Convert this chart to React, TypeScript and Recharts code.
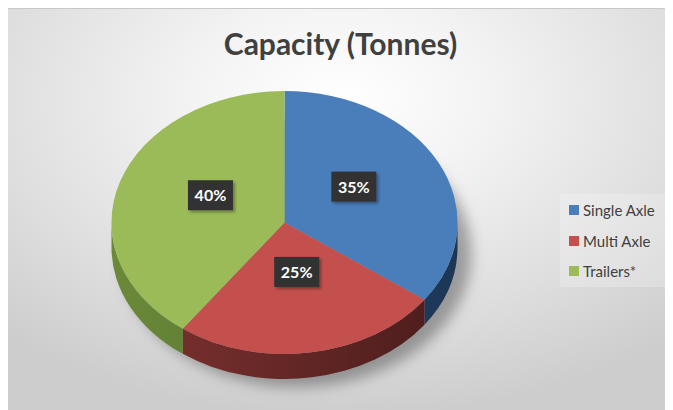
import React from 'react';
import { PieChart, Pie, Cell, Legend } from 'recharts';

const SLICES = ['Single Axle', 'Multi Axle', 'Trailers*'];
const SHARES = [35, 25, 40];
const COLORS = ['#4a7ebb', '#c4504d', '#9bbb59'];
// darker tones for the rim of each slice (left end, right end)
const RIM_LIGHT = ['#2f5384', '#7f3331', '#6b8a38'];
const RIM_DARK = ['#1d3656', '#4a1c1b', '#45602a'];

const WIDTH = 665;
const HEIGHT = 402;
const CX = 276.5;
const CY = 213.5;
const RX = 173;
const TILT = 0.76; // vertical squash of the top face
const DEPTH = 25;

const data = SLICES.map((name, i) => ({ name, value: SHARES[i] }));

const RAD = Math.PI / 180;

function pt(cx: number, cy: number, rx: number, ry: number, a: number, dy = 0) {
    return [cx + rx * Math.cos(a * RAD), cy - ry * Math.sin(a * RAD) + dy];
}

// draws the tilted slice (top face + rim) and its percentage tag
function renderSlice(props: any) {
    const { cx, cy, outerRadius, startAngle, endAngle, midAngle, index } = props;
    const rx = outerRadius;
    const ry = outerRadius * TILT;
    const s = startAngle;
    const e = endAngle;

    const [x1, y1] = pt(cx, cy, rx, ry, s);
    const [x2, y2] = pt(cx, cy, rx, ry, e);
    const large = s - e > 180 ? 1 : 0;
    const top = `M${cx},${cy} L${x1},${y1} A${rx},${ry} 0 ${large} 1 ${x2},${y2} Z`;

    // rim is only visible on the front (lower) half
    const hi = Math.min(s, 0);
    const lo = Math.max(e, -180);
    let rim: string | null = null;
    if (hi > lo) {
        const [a1, b1] = pt(cx, cy, rx, ry, hi);
        const [a2, b2] = pt(cx, cy, rx, ry, lo);
        rim = `M${a1},${b1} A${rx},${ry} 0 0 1 ${a2},${b2} L${a2},${b2 + DEPTH} A${rx},${ry} 0 0 0 ${a1},${b1 + DEPTH} Z`;
    }

    const lx = cx + rx * 0.45 * Math.cos(midAngle * RAD);
    const ly = cy - ry * 0.45 * Math.sin(midAngle * RAD) - 9;

    return (
        <g key={`slice-${index}`}>
            <defs>
                <linearGradient id={`rim-${index}`} gradientUnits="userSpaceOnUse" x1={cx - rx} y1={0} x2={cx + rx} y2={0}>
                    <stop offset="0%" stopColor={RIM_LIGHT[index]} />
                    <stop offset="100%" stopColor={RIM_DARK[index]} />
                </linearGradient>
                {index === 0 && (
                    <>
                        <filter id="pie-shadow" x="-20%" y="-20%" width="140%" height="140%">
                            <feGaussianBlur stdDeviation="7" />
                        </filter>
                        <filter id="tag-shadow" x="-30%" y="-30%" width="160%" height="160%">
                            <feDropShadow dx="2" dy="2" stdDeviation="1.5" floodColor="#000" floodOpacity="0.35" />
                        </filter>
                    </>
                )}
            </defs>
            {index === 0 && (
                <ellipse
                    cx={cx + 12}
                    cy={cy + DEPTH + 6}
                    rx={rx + 2}
                    ry={ry + 2}
                    fill="rgba(0,0,0,0.32)"
                    filter="url(#pie-shadow)"
                />
            )}
            {rim && <path d={rim} fill={`url(#rim-${index})`} />}
            <path d={top} fill={COLORS[index]} />
            <rect x={lx - 22.5} y={ly - 15} width={45} height={30} fill="#333333" filter="url(#tag-shadow)" />
            <text
                x={lx}
                y={ly + 6}
                textAnchor="middle"
                fill="#ffffff"
                fontFamily="Lato, 'Open Sans', sans-serif"
                fontWeight="bold"
                fontSize={16}
            >
                {`${SHARES[index]}%`}
            </text>
        </g>
    );
}

function LegendBox() {
    return (
        <div
            style={{
                width: 110,
                height: 93,
                background: 'rgba(255,255,255,0.22)',
                boxSizing: 'border-box',
                paddingTop: 1,
                paddingLeft: 9,
            }}
        >
            {SLICES.map((name, i) => (
                <div key={name} style={{ display: 'flex', alignItems: 'center', height: 30.5 }}>
                    <span style={{ width: 10, height: 10, background: COLORS[i], marginRight: 4 }} />
                    <span style={{ fontFamily: "Lato, 'Open Sans', sans-serif", fontSize: 15, color: '#404040' }}>
                        {name}
                    </span>
                </div>
            ))}
        </div>
    );
}

export default function App() {
    return (
        <div
            style={{
                position: 'relative',
                width: WIDTH,
                height: HEIGHT,
                background: 'radial-gradient(ellipse 75% 80% at 50% 22%, #ffffff 0%, #f3f3f3 30%, #dedede 70%, #cdcdcd 100%)',
                borderTop: '1px solid #c8c8c8',
                boxSizing: 'border-box',
            }}
        >
            <div
                style={{
                    position: 'absolute',
                    left: 0,
                    top: 19,
                    width: WIDTH,
                    textAlign: 'center',
                    fontFamily: "Lato, 'Open Sans', sans-serif",
                    fontWeight: 'bold',
                    fontSize: 30,
                    lineHeight: '30px',
                    color: '#404040',
                }}
            >
                Capacity (Tonnes)
            </div>
            <PieChart width={WIDTH} height={HEIGHT - 1} margin={{ top: 0, right: 0, bottom: 0, left: 0 }}>
                <Pie
                    data={data}
                    dataKey="value"
                    nameKey="name"
                    cx={CX}
                    cy={CY}
                    outerRadius={RX}
                    startAngle={90}
                    endAngle={-270}
                    stroke="none"
                    fillOpacity={0}
                    labelLine={false}
                    label={renderSlice}
                    isAnimationActive={false}
                >
                    {data.map((d, i) => (
                        <Cell key={d.name} fill={COLORS[i]} />
                    ))}
                </Pie>
                <Legend
                    content={<LegendBox />}
                    wrapperStyle={{ position: 'absolute', left: 552, top: 185, width: 110, height: 93 }}
                />
            </PieChart>
        </div>
    );
}
